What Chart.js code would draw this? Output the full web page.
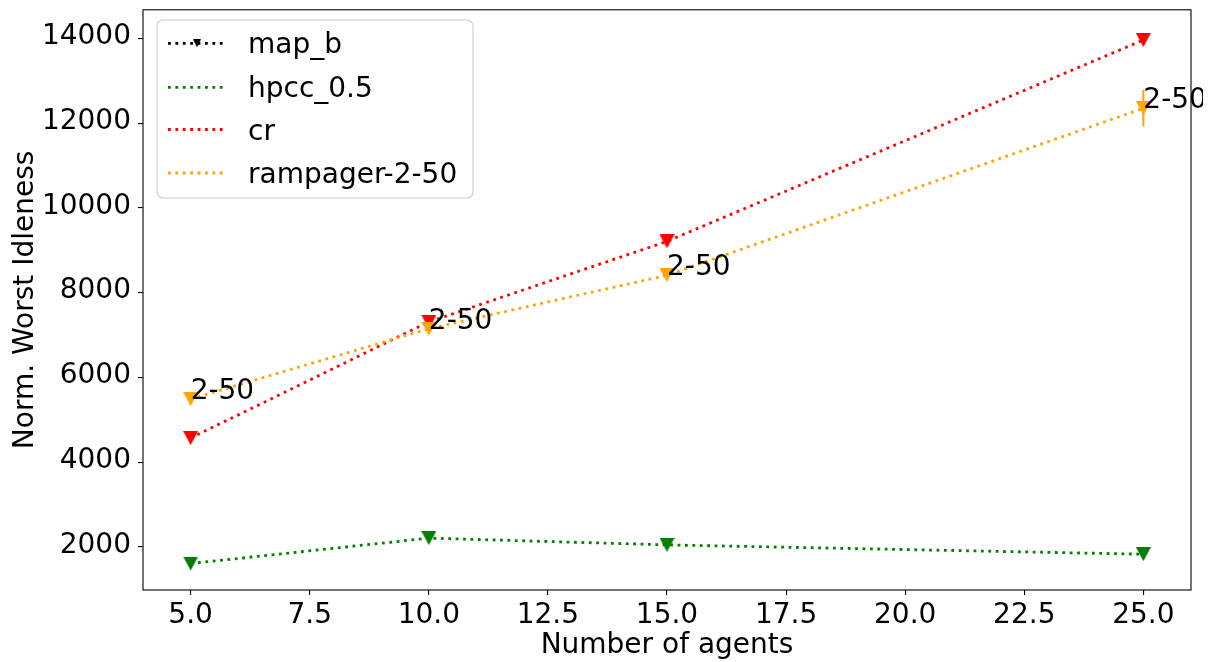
<!DOCTYPE html>
<html>
<head>
<meta charset="utf-8">
<script src="https://cdn.jsdelivr.net/npm/chart.js@4.4.1/dist/chart.umd.min.js"></script>
<style>
  html, body { margin: 0; padding: 0; background: #fff; }
  #wrap { width: 1212px; height: 662px; }
</style>
</head>
<body>
<div id="wrap"><canvas id="c" width="1212" height="662"></canvas></div>
<script>
// ---- data ----
const agents = [5, 10, 15, 25];
const mapB = [null, null, null, null];
const hpcc = [1610, 2210, 2050, 1830];
const cr = [4570, 7310, 9210, 13960];
const rampager = [5490, 7150, 8410, 12350];
const rampagerErr = [0, 0, 0, 430];
const annotText = '2-50';
const seriesNames = ['map_b', 'hpcc_0.5', 'cr', 'rampager-2-50'];
const seriesColors = ['#000000', '#008000', '#ff0000', '#ffa500'];
const xTicks = [5, 7.5, 10, 12.5, 15, 17.5, 20, 22.5, 25];
const xTickLabels = ['5.0', '7.5', '10.0', '12.5', '15.0', '17.5', '20.0', '22.5', '25.0'];
const yTicks = [2000, 4000, 6000, 8000, 10000, 12000, 14000];
const yTickLabels = ['2000', '4000', '6000', '8000', '10000', '12000', '14000'];
const xTitle = 'Number of agents';
const yTitle = 'Norm. Worst Idleness';

const FONT = '"DejaVu Sans", "Liberation Sans", sans-serif';

function triangleImg(color, w, h) {
  const cv = document.createElement('canvas');
  cv.width = w; cv.height = h;
  const g = cv.getContext('2d');
  g.fillStyle = color;
  g.beginPath();
  g.moveTo(0, 0); g.lineTo(w, 0); g.lineTo(w / 2, h); g.closePath();
  g.fill();
  return cv;
}

const seriesValues = [mapB, hpcc, cr, rampager];
const datasets = seriesValues.map((vals, i) => ({
  label: seriesNames[i],
  data: agents.map((a, j) => ({ x: a, y: vals[j] })),
  borderColor: seriesColors[i],
  backgroundColor: seriesColors[i],
  borderWidth: 2.8,
  borderDash: [2.8, 4.6],
  borderCapStyle: 'butt',
  pointStyle: triangleImg(seriesColors[i], 15, 14),
  pointRadius: 7,
  pointHoverRadius: 7,
  tension: 0,
  spanGaps: false,
  order: seriesValues.length - i
}));

const overlay = {
  id: 'overlay',
  beforeDatasetsDraw(chart) {
    const ctx = chart.ctx, xs = chart.scales.x, ys = chart.scales.y;
    ctx.save();
    ctx.strokeStyle = seriesColors[3];
    ctx.lineWidth = 2;
    agents.forEach((a, j) => {
      if (!rampagerErr[j]) return;
      const px = xs.getPixelForValue(a);
      ctx.beginPath();
      ctx.moveTo(px, ys.getPixelForValue(rampager[j] - rampagerErr[j]));
      ctx.lineTo(px, ys.getPixelForValue(rampager[j] + rampagerErr[j]));
      ctx.stroke();
    });
    ctx.restore();
  },
  afterDatasetsDraw(chart) {
    const ctx = chart.ctx, xs = chart.scales.x, ys = chart.scales.y, ca = chart.chartArea;
    ctx.save();
    // frame
    ctx.strokeStyle = '#000';
    ctx.lineWidth = 1.1;
    ctx.strokeRect(ca.left, ca.top, ca.right - ca.left, ca.bottom - ca.top);
    // annotations
    ctx.beginPath();
    ctx.rect(0, 0, 1203, 662);
    ctx.clip();
    ctx.fillStyle = '#000';
    ctx.font = '28px ' + FONT;
    ctx.textAlign = 'left';
    ctx.textBaseline = 'alphabetic';
    agents.forEach((a, j) => {
      ctx.fillText(annotText, xs.getPixelForValue(a), ys.getPixelForValue(rampager[j]));
    });
    ctx.restore();
  },
  afterDraw(chart) {
    const ctx = chart.ctx, ca = chart.chartArea;
    ctx.save();
    // axis titles
    ctx.fillStyle = '#000';
    ctx.font = '28px ' + FONT;
    ctx.textAlign = 'center';
    ctx.textBaseline = 'alphabetic';
    ctx.fillText(xTitle, (ca.left + ca.right) / 2, 652.5);
    ctx.save();
    ctx.translate(33, (ca.top + ca.bottom) / 2);
    ctx.rotate(-Math.PI / 2);
    ctx.fillText(yTitle, 0, 0);
    ctx.restore();
    // legend
    const bx = 157, by = 20, bw = 316, bh = 178, r = 6;
    ctx.beginPath();
    ctx.moveTo(bx + r, by);
    ctx.arcTo(bx + bw, by, bx + bw, by + bh, r);
    ctx.arcTo(bx + bw, by + bh, bx, by + bh, r);
    ctx.arcTo(bx, by + bh, bx, by, r);
    ctx.arcTo(bx, by, bx + bw, by, r);
    ctx.closePath();
    ctx.fillStyle = 'rgba(255,255,255,0.8)';
    ctx.fill();
    ctx.strokeStyle = '#cccccc';
    ctx.lineWidth = 1.1;
    ctx.stroke();
    const rows = [43.3, 87.3, 129.5, 173];
    seriesNames.forEach((name, i) => {
      const y = rows[i];
      ctx.save();
      ctx.strokeStyle = seriesColors[i];
      ctx.lineWidth = 2.8;
      ctx.setLineDash([2.8, 4.6]);
      ctx.lineCap = 'butt';
      ctx.beginPath();
      ctx.moveTo(168, y);
      ctx.lineTo(226, y);
      ctx.stroke();
      ctx.restore();
      if (i === 0) {
        ctx.drawImage(triangleImg(seriesColors[0], 8, 8), 193, y - 4);
      }
      ctx.fillStyle = '#000';
      ctx.textAlign = 'left';
      ctx.textBaseline = 'alphabetic';
      ctx.fillText(name, 248, y + 10);
    });
    ctx.restore();
  }
};

new Chart(document.getElementById('c'), {
  type: 'line',
  data: { datasets },
  options: {
    responsive: false,
    animation: false,
    devicePixelRatio: 1,
    layout: { padding: { left: 0, top: 6, right: 21, bottom: 0 } },
    plugins: { legend: { display: false }, tooltip: { enabled: false } },
    scales: {
      x: {
        type: 'linear',
        min: 4,
        max: 26,
        afterBuildTicks: s => { s.ticks = xTicks.map(v => ({ value: v })); },
        afterFit: s => { s.height = 72; s.paddingLeft = 0; s.paddingRight = 0; },
        ticks: {
          autoSkip: false,
          maxRotation: 0,
          padding: 4,
          color: '#000',
          font: { size: 28, family: FONT },
          callback: (v, i) => xTickLabels[i]
        },
        grid: { drawOnChartArea: false, drawTicks: true, tickLength: 5, color: '#000', lineWidth: 1.1 },
        border: { display: false }
      },
      y: {
        type: 'linear',
        min: 986,
        max: 14673,
        afterBuildTicks: s => { s.ticks = yTicks.map(v => ({ value: v })); },
        afterFit: s => { s.width = 143; s.paddingTop = 0; s.paddingBottom = 0; },
        ticks: {
          autoSkip: false,
          padding: 7,
          labelOffset: -1.5,
          color: '#000',
          font: { size: 28, family: FONT },
          callback: (v, i) => yTickLabels[i]
        },
        grid: { drawOnChartArea: false, drawTicks: true, tickLength: 5, color: '#000', lineWidth: 1.1 },
        border: { display: false }
      }
    }
  },
  plugins: [overlay]
});
</script>
</body>
</html>
